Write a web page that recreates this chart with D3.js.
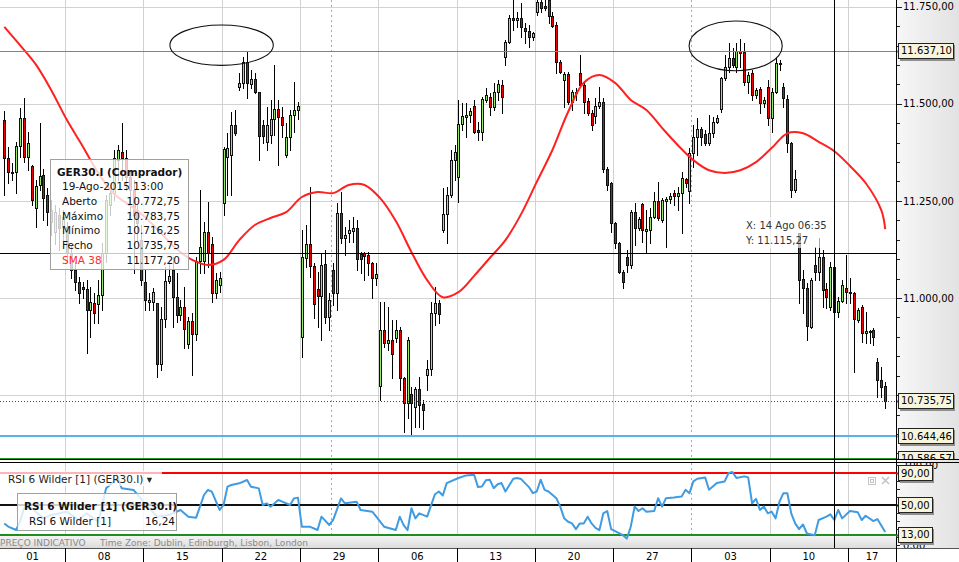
<!DOCTYPE html>
<html><head><meta charset="utf-8">
<script src="https://cdn.jsdelivr.net/npm/d3@7/dist/d3.min.js"></script>
<style>
html,body{margin:0;padding:0;background:#fff;overflow:hidden}
svg{display:block;font-family:"DejaVu Sans",Verdana,sans-serif}
</style></head><body>
<svg id="chart" width="959" height="562"></svg>
<script>
// ================= DATA =================
const symbol = "GER30.I (Comprador)";
const lastTime = "19-Ago-2015 13:00";
const firstIndex = 4; // candle index (4h bars, 4 per trading day, 0 = 01 Jun 2015)
const openPx = [
11458,11360,11322,11324,11391,11463,11363,11340,11232,11291,
11317,11265,11227,11170,11214,11183,11183,11116,11072,11041,
11028,11023,10969,10987,10984,11008,11116,11239,11270,11355,
11376,11360,11312,11278,11227,11149,11041,10990,10990,10987,
10830,10946,11044,11072,11002,10956,10977,10882,10941,10907,
11095,11095,11170,11139,11013,11033,11245,11363,11368,11445,
11543,11554,11608,11551,11564,11530,11445,11402,11420,11461,
11487,11466,11368,11415,11471,11484,10900,11103,11139,11082,
11023,11005,11087,10951,11072,11013,11219,11154,11167,11172,
11180,11113,11116,11111,11090,11051,10773,10918,10884,10892,
10897,10918,10794,10730,10753,10719,10766,10727,10802,10817,
10961,10987,11175,11216,11265,11355,11311,11448,11466,11471,
11494,11433,11427,11510,11518,11492,11530,11548,11621,11659,
11721,11716,11721,11695,11688,11672,11736,11762,11752,11767,
11726,11703,11608,11561,11577,11505,11528,11579,11548,11507,
11476,11469,11494,11505,11332,11296,11193,11142,11067,11106,
11085,11221,11180,11242,11172,11175,11209,11250,11201,11250,
11255,11270,11263,11270,11306,11275,11373,11415,11435,11422,
11399,11425,11453,11487,11566,11595,11618,11595,11636,11633,
11556,11579,11523,11538,11502,11543,11463,11530,11603,11543,
11512,11399,11278,11167,11049,11026,10925,11085,11067,11106,
11023,10977,11080,10964,10992,11026,11015,11013,10943,10977,
10910,10915,10917,10835,10789,10772.75];
const highPx = [
11481,11389,11348,11402,11489,11515,11427,11342,11304,11451,
11332,11283,11252,11239,11232,11227,11196,11136,11093,11054,
11041,11046,11028,11013,11046,11142,11265,11291,11381,11394,
11451,11381,11330,11304,11239,11188,11072,11013,11026,10987,
10977,11080,11098,11106,11064,10995,11028,10951,10961,11106,
11278,11196,11247,11157,11064,11067,11389,11425,11479,11484,
11579,11621,11633,11587,11579,11530,11458,11492,11510,11600,
11510,11492,11451,11484,11556,11505,11175,11188,11286,11090,
11067,11116,11124,11013,11090,11245,11273,11183,11201,11209,
11201,11118,11118,11118,11093,11090,10990,10990,10977,10943,
10943,10925,10797,10900,10771,10771,10797,10737,10840,10990,
11028,10995,11283,11286,11381,11394,11510,11502,11502,11489,
11510,11453,11518,11541,11528,11554,11561,11561,11664,11729,
11767,11736,11760,11708,11703,11685,11788,11793,11775,11783,
11736,11711,11613,11582,11582,11536,11541,11626,11556,11515,
11484,11515,11543,11515,11337,11299,11196,11144,11072,11124,
11227,11245,11209,11245,11227,11232,11273,11299,11257,11260,
11270,11278,11286,11324,11309,11386,11445,11463,11440,11432,
11471,11466,11471,11569,11626,11657,11644,11657,11667,11657,
11582,11587,11541,11543,11518,11561,11541,11618,11613,11554,
11523,11402,11330,11167,11072,11039,11051,11131,11154,11124,
11039,11093,11080,11003,11046,11111,11051,11015,10974,10982,
10964,10917,10923,10845,10822,10783.75];
const lowPx = [
11265,11296,11304,11270,11363,11350,11330,11239,11183,11278,
11201,11188,11162,11138,11124,11149,11093,11051,11021,10987,
11000,10858,10900,10936,10936,10969,11093,11214,11252,11304,
11304,11278,11214,11064,11149,11033,10969,10969,10969,10797,
10815,10925,11039,10925,10938,10943,10871,10871,10802,10892,
11064,11064,11080,10990,11000,11015,11214,11265,11265,11420,
11536,11541,11515,11541,11528,11355,11399,11381,11399,11420,
11342,11415,11363,11381,11427,11461,10848,11080,11054,10948,
10925,10892,10936,10918,10982,10969,11142,11111,11144,11144,
11072,11064,11046,11059,11000,11033,10737,10874,10866,10794,
10887,10763,10655,10691,10647,10668,10668,10663,10763,10802,
10930,10936,11170,11142,11260,11304,11247,11433,11415,11453,
11425,11407,11407,11505,11471,11484,11510,11476,11600,11657,
11690,11698,11672,11657,11646,11664,11729,11736,11742,11708,
11698,11579,11579,11492,11500,11484,11510,11543,11476,11471,
11433,11451,11489,11324,11278,11170,11129,11064,11026,11067,
11077,11136,11175,11144,11118,11142,11206,11201,11196,11131,
11245,11239,11227,11167,11286,11245,11337,11368,11394,11394,
11394,11415,11451,11479,11561,11582,11595,11582,11595,11548,
11528,11510,11515,11476,11492,11445,11427,11528,11587,11492,
11376,11260,11273,10987,10961,10892,10923,11046,11046,10977,
10974,10969,10905,10951,10990,10987,10987,10809,10938,10887,
10884,10884,10879,10745,10745,10716.25];
const closePx = [
11360,11324,11324,11391,11463,11363,11399,11252,11288,11314,
11257,11221,11196,11221,11180,11209,11116,11072,11041,11013,
11023,10969,10990,10961,11008,11116,11252,11270,11360,11381,
11360,11312,11278,11214,11193,11046,10995,10995,11015,10830,
10946,11044,11057,11002,10956,10977,10920,10941,10907,11095,
11131,11170,11116,11013,11046,11051,11384,11386,11445,11425,
11554,11608,11554,11564,11530,11417,11417,11445,11461,11487,
11466,11445,11415,11471,11484,11494,11106,11139,11082,10985,
11005,11085,10951,10995,11013,11219,11154,11162,11175,11180,
11100,11100,11108,11090,11051,11062,10918,10884,10892,10856,
10918,10794,10730,10892,10730,10766,10724,10712,10817,10961,
10987,10959,11216,11265,11355,11376,11448,11469,11471,11481,
11427,11427,11512,11523,11492,11530,11551,11518,11659,11721,
11716,11721,11698,11688,11672,11682,11762,11747,11747,11726,
11700,11608,11582,11577,11505,11530,11530,11548,11505,11476,
11445,11494,11505,11332,11291,11193,11142,11067,11041,11085,
11221,11180,11203,11175,11178,11209,11250,11206,11252,11255,
11263,11263,11270,11309,11296,11373,11415,11435,11415,11399,
11425,11453,11463,11566,11595,11618,11600,11636,11631,11556,
11574,11523,11536,11502,11510,11463,11530,11605,11605,11515,
11399,11278,11306,11046,11026,10928,11046,11067,11106,11021,
11002,11080,10964,10992,11033,11015,11013,10946,10969,10910,
10915,10912,10900,10789,10771,10735.75];

// SMA 38 (candle index -> value)
const smaIndex = [4,8,12,16,20,24,28,32,36,40,44,48,52,56,60,64,68,72,76,80,84,88,92,96,100,104,108,112,116,120,
124,128,132,136,140,144,148,152,156,160,164,168,172,176,180,184,188,192,196,200,204,208,212,216,220,224,228,229];
const smaValue = [11698,11651,11602,11535,11458,11391,11322,11268,11239,11208,
11167,11126,11098,11085,11098,11149,11188,11206,11221,11260,
11273,11270,11291,11291,11257,11198,11118,11046,11002,11015,
11057,11103,11149,11216,11299,11381,11479,11554,11574,11554,
11510,11484,11438,11394,11355,11329,11322,11329,11350,11386,
11424,11424,11402,11378,11340,11296,11226,11177.20];

// RSI 6 Wilder
const rsiIndex = [4,5,7,8,9,11,14,16,20,23,25,28,30,33,34,37,41,43,46,49,
51,53,55,56,57,59,60,61,62,64,66,67,69,70,71,72,74,75,77,78,
79,80,82,84,85,87,88,90,91,94,95,98,101,104,105,106,107,108,109,110,
112,114,115,116,117,120,122,124,125,126,127,128,129,130,131,132,134,135,136,138,
139,140,141,142,143,145,146,147,148,149,150,151,152,153,154,155,156,157,158,159,
160,162,163,164,165,166,167,168,170,171,172,173,175,177,178,179,180,181,183,184,
186,188,189,190,191,193,194,195,196,197,198,199,200,201,202,203,204,205,206,207,
208,209,211,212,214,215,216,217,218,220,222,223,224,226,227,229];
const rsiValue = [27,23,18.8,29,45.8,45.8,33.3,37.5,41.7,31.3,39.6,29.2,70.8,83.3,70.8,68.8,45.8,35.4,37.5,43.8,
35.4,34.2,62.5,68.8,66.7,43.8,50,72.9,75,77.1,81.3,72.9,70.8,50,52.1,47.9,56.3,54.2,50,58.3,
59.2,22.9,22.9,18.8,35.4,25,31.3,58.3,52.1,54.2,43.8,41.7,22.9,18.8,35.4,24.9,18.6,45.9,33.3,39.6,
35.4,63.5,66.9,61.8,77.4,83.7,87,87.9,72.4,73.2,80.8,81.6,71,76,77.4,66.9,82.8,83.7,82.4,72.4,
64.8,66.9,81.6,69,66.9,58.5,48,33.3,29,27,19.8,27,27,35.4,27,21.5,18.6,39.6,42.5,19.8,
17.3,12.3,8,22.8,48,42.5,45.9,41.7,42.5,58.5,48,58.5,59.3,60.6,69,64.8,79.5,82.8,84.5,69,
77.4,79.5,90,91.3,83.7,85.8,84.5,52.2,57.6,43.8,48,39.6,41.7,33.3,54.3,64.8,64.8,39.6,27,19.8,
25.7,14.4,12.3,31.2,35.4,38.3,31.2,43.8,33.3,42.5,40.8,31.2,36.6,29.9,32.4,16.24];

const weekLabels = ["01","08","15","22","29","06","13","20","27","03","10","17"];
const weekStartIndex = [0,20,40,60,80,100,120,140,160,180,200,220];
const monthStartIndex = [88,180];
const priceGrid = [11750,11500,11250,11000,10750];
const priceLabels = [11750,11500,11250,11000];
const levelValues = [11637.10,10735.75,10644.46,10586.57];
const rsiLevels = [90,50,13];
const rsiAxisLabels = [100,0];
const crossIndex = 216.4, crossPrice = 11115.27, crossText = "14 Ago 06:35";
const ellipseIndex = [60.0,191.3], ellipsePrice = [11651,11649];
const ellipseHalfBars = [13.2,11.9], ellipseHalfPoints = [52,64];
const rsiName = "RSI 6 Wilder [1]";

// ================= SCALES =================
const svg = d3.select("#chart");
const AX = 896;                 // right axis x
const MAIN_B = 459, RSI_T = 463, STAT_T = 536, XAX_T = 548;
const x = d3.scaleLinear().domain([3.4, 232]).range([0, 895]);
const y = d3.scaleLinear().domain([11000, 11750]).range([298, 6.7]);
const yr = d3.scaleLinear().domain([0, 100]).range([545, 465]);
const loc = d3.formatLocale({decimal: ",", thousands: ".", grouping: [3], currency: ["", ""]});
const fmt = loc.format(",.2f");
const px = v => Math.round(v) + 0.5;

const defs = svg.append("defs");
const g1 = defs.append("linearGradient").attr("id","axg").attr("x1",0).attr("x2",1).attr("y1",0).attr("y2",0);
g1.append("stop").attr("offset",0).attr("stop-color","#f7f7f7");
g1.append("stop").attr("offset",1).attr("stop-color","#e2e2e2");
const g2 = defs.append("linearGradient").attr("id","stg").attr("x1",0).attr("x2",0).attr("y1",0).attr("y2",1);
g2.append("stop").attr("offset",0).attr("stop-color","#f4f4f4");
g2.append("stop").attr("offset",1).attr("stop-color","#dcdcdc");
function clip(id, x0, y0, w, h){ defs.append("clipPath").attr("id",id).append("rect").attr("x",x0).attr("y",y0).attr("width",w).attr("height",h); }
clip("cm", 0, 0, AX, MAIN_B);
clip("cr", 0, RSI_T, AX, XAX_T - RSI_T);
clip("cam", AX, 0, 959 - AX, MAIN_B);
clip("car", AX, RSI_T, 959 - AX, XAX_T - RSI_T);

svg.append("rect").attr("width",959).attr("height",562).attr("fill","#fff");
svg.append("rect").attr("x",AX).attr("y",0).attr("width",959-AX).attr("height",XAX_T).attr("fill","url(#axg)");
// status bar
svg.append("rect").attr("x",0).attr("y",STAT_T).attr("width",AX).attr("height",XAX_T-STAT_T).attr("fill","url(#stg)");

// ================= GRID =================
const grid = svg.append("g").attr("stroke","#d2d2d2").attr("stroke-width",1);
weekStartIndex.filter(w => w > 0 && !monthStartIndex.includes(w)).forEach(w => {
  grid.append("line").attr("x1",px(x(w))).attr("x2",px(x(w))).attr("y1",0).attr("y2",MAIN_B);
  grid.append("line").attr("x1",px(x(w))).attr("x2",px(x(w))).attr("y1",RSI_T).attr("y2",STAT_T);
});
monthStartIndex.forEach(w => {
  grid.append("line").attr("x1",px(x(w))).attr("x2",px(x(w))).attr("y1",0).attr("y2",MAIN_B).attr("stroke","#a8a8a8").attr("stroke-dasharray","2,3");
  grid.append("line").attr("x1",px(x(w))).attr("x2",px(x(w))).attr("y1",RSI_T).attr("y2",STAT_T).attr("stroke","#a8a8a8").attr("stroke-dasharray","2,3");
});
priceGrid.forEach(p => grid.append("line").attr("x1",0).attr("x2",AX).attr("y1",px(y(p))).attr("y2",px(y(p))));

// ================= CANDLES =================
const candles = openPx.map((o,i) => ({i: firstIndex + i, o, h: highPx[i], l: lowPx[i], c: closePx[i]}));
const cg = svg.append("g").attr("clip-path","url(#cm)");
candles.forEach(d => {
  const cx = Math.round(x(d.i + 0.5));
  cg.append("line").attr("x1",cx+0.5).attr("x2",cx+0.5).attr("y1",Math.round(y(d.h))).attr("y2",Math.round(y(d.l))+1)
    .attr("stroke","#000").attr("stroke-width",1);
  const top = Math.round(y(Math.max(d.o,d.c))), bot = Math.round(y(Math.min(d.o,d.c)));
  cg.append("rect").attr("x",cx-0.5).attr("y",top+0.5).attr("width",2).attr("height",Math.max(bot-top,1))
    .attr("fill", d.c >= d.o ? "#98e66a" : "#ee0000").attr("stroke","#111").attr("stroke-width",1);
});

// ================= SMA =================
const smaPts = smaIndex.map((k,i) => [x(k + 0.5), y(smaValue[i])]);
svg.append("path").attr("clip-path","url(#cm)").attr("d", d3.line().curve(d3.curveCatmullRom)(smaPts))
  .attr("fill","none").attr("stroke","#ff2020").attr("stroke-width",2);

// ================= LEVEL LINES =================
const lv = svg.append("g").attr("clip-path","url(#cm)");
lv.append("line").attr("x1",0).attr("x2",AX).attr("y1",px(y(levelValues[0]))).attr("y2",px(y(levelValues[0]))).attr("stroke","#4a8fd4").attr("stroke-width",1);
lv.append("line").attr("x1",0).attr("x2",AX).attr("y1",px(y(levelValues[1]))).attr("y2",px(y(levelValues[1]))).attr("stroke","#ff0000").attr("stroke-width",1).attr("stroke-dasharray","1,2");
lv.append("line").attr("x1",0).attr("x2",AX).attr("y1",Math.round(y(levelValues[2]))).attr("y2",Math.round(y(levelValues[2]))).attr("stroke","#5ab1ef").attr("stroke-width",2);
lv.append("line").attr("x1",0).attr("x2",AX).attr("y1",Math.round(y(levelValues[3]))).attr("y2",Math.round(y(levelValues[3]))).attr("stroke","#1f9b1f").attr("stroke-width",2);
// crosshair horizontal
lv.append("line").attr("x1",0).attr("x2",AX).attr("y1",px(y(crossPrice))).attr("y2",px(y(crossPrice))).attr("stroke","#000").attr("stroke-width",1);

// ================= ELLIPSES =================
ellipseIndex.forEach((k,i) => {
  svg.append("ellipse").attr("cx",x(k)).attr("cy",y(ellipsePrice[i]))
    .attr("rx",x(k + ellipseHalfBars[i]) - x(k)).attr("ry",y(ellipsePrice[i] - ellipseHalfPoints[i]) - y(ellipsePrice[i]))
    .attr("fill","none").attr("stroke","#111").attr("stroke-width",1.1);
});

// ================= RIGHT AXIS (main) =================
const am = svg.append("g").attr("clip-path","url(#cam)");
for (let p = 10550; p <= 11800; p += 50) {
  const major = priceLabels.includes(p);
  am.append("line").attr("x1",AX).attr("x2",AX + (major ? 6 : 4)).attr("y1",px(y(p))).attr("y2",px(y(p))).attr("stroke","#222");
}
priceLabels.forEach(p => am.append("text").attr("x",AX+7).attr("y",y(p)+3.6).attr("font-size",10).attr("fill","#000").text(fmt(p)));
const tagColors = ["#4a8fd4","#ff0000","#5ab1ef","#1f9b1f"];
function tag(g, yy, txt, w, col){
  g.append("line").attr("x1",AX).attr("x2",AX+3).attr("y1",px(yy)).attr("y2",px(yy)).attr("stroke",col).attr("stroke-width",2);
  g.append("rect").attr("x",AX+4).attr("y",Math.round(yy)-6).attr("width",w).attr("height",16).attr("fill","#8f8f8f");
  g.append("rect").attr("x",AX+2.5).attr("y",Math.round(yy)-7.5).attr("width",w).attr("height",15).attr("fill","#f7f6dc").attr("stroke","#222").attr("stroke-width",1);
  g.append("text").attr("x",AX+5).attr("y",yy+3.8).attr("font-size",10).attr("fill","#000").text(txt);
}
levelValues.forEach((v,i) => tag(am, y(v), fmt(v), 55, tagColors[i]));

// axis line
svg.append("line").attr("x1",AX+0.5).attr("x2",AX+0.5).attr("y1",0).attr("y2",XAX_T).attr("stroke","#000");

// ================= RSI PANEL =================
const rg = svg.append("g").attr("clip-path","url(#cr)");
const rsiCols = ["#ff0000","#111111","#1e8f1e"];
rsiLevels.forEach((v,i) => rg.append("line").attr("x1",0).attr("x2",AX).attr("y1",Math.round(yr(v))).attr("y2",Math.round(yr(v))).attr("stroke",rsiCols[i]).attr("stroke-width",2));
const rsiPts = rsiIndex.map((k,i) => [x(k + 0.5), yr(rsiValue[i])]);
rg.append("path").attr("d", d3.line()(rsiPts)).attr("fill","none").attr("stroke","#3f9be2").attr("stroke-width",2).attr("stroke-linejoin","round");

// status text
svg.append("text").attr("x",0).attr("y",545.5).attr("font-size",9).attr("fill","#8a8a8a").text("PREÇO INDICATIVO");
svg.append("text").attr("x",100).attr("y",545.5).attr("font-size",9).attr("fill","#8a8a8a").text("Time Zone: Dublin, Edinburgh, Lisbon, London");

// RSI label
svg.append("rect").attr("x",0).attr("y",471).attr("width",162).attr("height",15).attr("fill","#fff").attr("opacity",0.7);
svg.append("text").attr("x",8).attr("y",482.5).attr("font-size",10.5).attr("fill","#222").text(rsiName + " (GER30.I) \u25BE");

// icons
svg.append("rect").attr("x",868.5).attr("y",477.5).attr("width",7).attr("height",7).attr("fill","none").attr("stroke","#c4c4c4");
svg.append("rect").attr("x",870.5).attr("y",479.5).attr("width",3).attr("height",3).attr("fill","none").attr("stroke","#c4c4c4");
svg.append("path").attr("d","M882,477 L889,484 M889,477 L882,484").attr("stroke","#c4c4c4").attr("stroke-width",1.6);

// RSI axis
const ar = svg.append("g").attr("clip-path","url(#car)");
[0,10,20,30,40,60,70,80,100].forEach(v => ar.append("line").attr("x1",AX).attr("x2",AX+4).attr("y1",px(yr(v))).attr("y2",px(yr(v))).attr("stroke","#222"));
rsiAxisLabels.forEach(v => ar.append("text").attr("x",AX+7).attr("y",yr(v)+3.6).attr("font-size",10).attr("fill","#000").text(fmt(v)));
rsiLevels.forEach((v,i) => tag(ar, yr(v), fmt(v), 34, rsiCols[i]));

// separators
svg.append("line").attr("x1",0).attr("x2",959).attr("y1",459.5).attr("y2",459.5).attr("stroke","#000");
svg.append("line").attr("x1",0).attr("x2",959).attr("y1",462.5).attr("y2",462.5).attr("stroke","#000");

// crosshair vertical
svg.append("line").attr("x1",px(x(crossIndex))).attr("x2",px(x(crossIndex))).attr("y1",0).attr("y2",XAX_T).attr("stroke","#000");

// crosshair label
svg.append("rect").attr("x",743).attr("y",217).attr("width",86).attr("height",31).attr("fill","#fff").attr("opacity",0.65);
svg.append("text").attr("x",746).attr("y",229).attr("font-size",10).attr("fill","#333").text("X: " + crossText);
svg.append("text").attr("x",746).attr("y",244).attr("font-size",10).attr("fill","#333").text("Y: " + fmt(crossPrice));

// ================= TOOLTIPS =================
const last = candles[candles.length - 1];
const tip = svg.append("g");
tip.append("rect").attr("x",50.5).attr("y",159.5).attr("width",138).attr("height",110).attr("fill","#fff").attr("fill-opacity",0.78).attr("stroke","#a0a0a0");
tip.append("text").attr("x",57).attr("y",175.5).attr("font-size",10.5).attr("font-weight","bold").attr("fill","#111").text(symbol);
tip.append("text").attr("x",62).attr("y",189.5).attr("font-size",10.5).attr("fill","#111").text(lastTime);
const rows = [["Aberto", last.o], ["Máximo", last.h], ["Mínimo", last.l], ["Fecho", last.c], ["SMA 38", smaValue[smaValue.length-1]]];
rows.forEach((r,i) => {
  const yy = 205 + i*14.7;
  const col = i === 4 ? "#ff2a2a" : "#111";
  tip.append("text").attr("x",62).attr("y",yy).attr("font-size",10.5).attr("fill",col).text(r[0]);
  tip.append("text").attr("x",180).attr("y",yy).attr("font-size",10.5).attr("fill","#111").attr("text-anchor","end").text(fmt(r[1]));
});

const rt = svg.append("g");
rt.append("rect").attr("x",17.5).attr("y",493.5).attr("width",159).attr("height",37).attr("fill","#fff").attr("fill-opacity",0.8).attr("stroke","#a0a0a0");
rt.append("text").attr("x",24).attr("y",510).attr("font-size",10.5).attr("font-weight","bold").attr("fill","#111").text(rsiName + " (GER30.I)");
rt.append("text").attr("x",29).attr("y",524.5).attr("font-size",10.5).attr("fill","#111").text(rsiName);
rt.append("text").attr("x",175).attr("y",524.5).attr("font-size",10.5).attr("fill","#111").attr("text-anchor","end").text(fmt(rsiValue[rsiValue.length-1]));

// ================= X AXIS =================
svg.append("rect").attr("x",0).attr("y",XAX_T).attr("width",959).attr("height",562-XAX_T).attr("fill","#fff");
svg.append("line").attr("x1",0).attr("x2",959).attr("y1",XAX_T+0.5).attr("y2",XAX_T+0.5).attr("stroke","#555");
const xa = svg.append("g");
weekStartIndex.forEach((w,i) => {
  const a = Math.max(0, x(w)), b = Math.min(AX, x(w + 20));
  if (w > 0) xa.append("line").attr("x1",px(x(w))).attr("x2",px(x(w))).attr("y1",XAX_T).attr("y2",562).attr("stroke","#000");
  xa.append("text").attr("x",(a+b)/2).attr("y",559.5).attr("font-size",10).attr("text-anchor","middle").attr("fill","#000").text(weekLabels[i]);
});
xa.append("line").attr("x1",AX+0.5).attr("x2",AX+0.5).attr("y1",XAX_T).attr("y2",562).attr("stroke","#000");
</script>
</body></html>
